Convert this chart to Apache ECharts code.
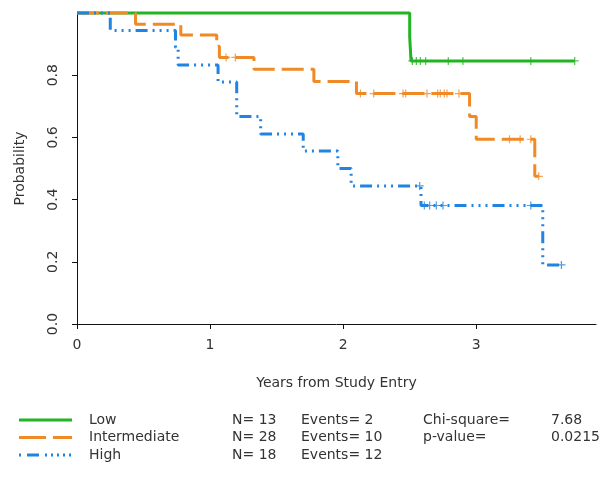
<!DOCTYPE html>
<html>
<head>
<meta charset="utf-8">
<title>Survival by risk group</title>
<script src="https://cdn.jsdelivr.net/npm/echarts@6/dist/echarts.min.js"></script>
<style>
  html, body { margin: 0; padding: 0; background: #fff; }
  #chart { width: 614px; height: 478px; }
</style>
</head>
<body>
<div id="chart"></div>
<script>
"use strict";

// groups
var groupNames = ['Low', 'Intermediate', 'High'];
var groupN = [13, 28, 18];
var groupEvents = [2, 10, 12];
var chiSquare = '7.68';
var pValue = '0.0215';

// step points (event times / survival after the event)
var lowTimes = [0, 2.50, 2.51];
var lowSurv = [1, 0.923, 0.846];
var lowCensor = [2.52, 2.55, 2.58, 2.62, 2.79, 2.90, 3.41, 3.74];

var midTimes = [0, 0.44, 0.78, 1.05, 1.07, 1.33, 1.78, 2.10, 2.95, 3.00, 3.44];
var midSurv = [1, 0.964, 0.929, 0.893, 0.857, 0.819, 0.780, 0.741, 0.667, 0.594, 0.475];
var midCensor = [1.12, 1.19, 2.13, 2.23, 2.45, 2.47, 2.63, 2.71, 2.73, 2.76, 2.78, 2.87, 3.25, 3.33, 3.41, 3.47];

var highTimes = [0, 0.25, 0.74, 0.76, 1.06, 1.20, 1.38, 1.70, 1.96, 2.06, 2.585, 3.50];
var highSurv = [1, 0.944, 0.889, 0.833, 0.778, 0.667, 0.611, 0.556, 0.500, 0.444, 0.381, 0.190];
var highCensor = [2.575, 2.61, 2.65, 2.70, 2.75, 3.41, 3.64];

// axis ticks
var xTicks = [0, 1, 2, 3];
var yTicks = [0, 0.2, 0.4, 0.6, 0.8];

var colors = ['#22b422', '#f08a26', '#2184e0'];
var dashes = ['solid', [22, 7], [12, 5, 2, 5, 2, 5, 2, 5]];
var legendDashes = ['solid', [27, 7], [2, 6, 12, 6, 2, 4, 2, 4, 2, 4, 2, 4]];
var txtColor = '#333';
var fontFam = '"DejaVu Sans", sans-serif';
var fs = 14;

function stepData(times, surv, censor) {
  var d = times.map(function(t, i) { return [t, surv[i]]; });
  var last = censor[censor.length - 1];
  if (last > times[times.length - 1]) d.push([last, surv[surv.length - 1]]);
  return d;
}
function censorData(times, surv, censor) {
  return censor.map(function(c) {
    var s = surv[0];
    for (var i = 0; i < times.length; i++) { if (times[i] <= c) s = surv[i]; }
    return [c, s];
  });
}

var groups = [
  [lowTimes, lowSurv, lowCensor],
  [midTimes, midSurv, midCensor],
  [highTimes, highSurv, highCensor]
];

var series = [];
groups.forEach(function(g, i) {
  series.push({
    name: groupNames[i],
    type: 'line',
    step: 'end',
    clip: false,
    symbol: 'none',
    data: stepData(g[0], g[1], g[2]),
    lineStyle: { color: colors[i], width: 3, type: dashes[i] },
    z: 2 + i
  });
  series.push({
    name: groupNames[i] + ' censored',
    type: 'scatter',
    clip: false,
    symbol: 'path://M0,4 L8,4 M4,0 L4,8',
    symbolSize: 8,
    data: censorData(g[0], g[1], g[2]),
    itemStyle: { color: 'none', borderColor: colors[i], borderWidth: 1.2 },
    z: 5 + i
  });
});

// legend / stats block under the chart
var graphics = [];
var rowY = [422, 439.5, 457];
function txt(x, y, s) {
  return { type: 'text', left: x, top: y - 9,
    style: { text: s, font: fs + 'px ' + fontFam, fill: txtColor } };
}
groupNames.forEach(function(name, i) {
  graphics.push({
    type: 'line',
    shape: { x1: 19, y1: rowY[i] - 2, x2: 72, y2: rowY[i] - 2 },
    style: { stroke: colors[i], lineWidth: 3, lineDash: legendDashes[i] === 'solid' ? null : legendDashes[i] }
  });
  graphics.push(txt(89, rowY[i], name));
  graphics.push(txt(232, rowY[i], 'N= ' + groupN[i]));
  graphics.push(txt(301, rowY[i], 'Events= ' + groupEvents[i]));
});
graphics.push(txt(423, rowY[0], 'Chi-square='));
graphics.push(txt(551, rowY[0], chiSquare));
graphics.push(txt(423, rowY[1], 'p-value='));
graphics.push(txt(551, rowY[1], pValue));

var chart = echarts.init(document.getElementById('chart'), null, { renderer: 'canvas' });
var option = {
  animation: false,
  backgroundColor: '#fff',
  textStyle: { fontFamily: fontFam },
  grid: { left: 77, right: 18, top: 13, bottom: 154, containLabel: false },
  xAxis: {
    type: 'value',
    min: 0,
    max: 3.9,
    interval: 1,
    name: 'Years from Study Entry',
    nameLocation: 'middle',
    nameGap: 52,
    nameTextStyle: { color: txtColor, fontSize: fs, fontFamily: fontFam },
    axisLine: { show: true, onZero: false, lineStyle: { color: '#111', width: 1 } },
    axisTick: { show: true, length: 5, customValues: xTicks, lineStyle: { color: '#111' } },
    axisLabel: { customValues: xTicks, color: txtColor, fontSize: fs, margin: 14, fontFamily: fontFam },
    splitLine: { show: false }
  },
  yAxis: {
    type: 'value',
    min: 0,
    max: 1,
    interval: 0.2,
    name: 'Probability',
    nameLocation: 'middle',
    nameGap: 50,
    nameTextStyle: { color: txtColor, fontSize: fs, fontFamily: fontFam },
    axisLine: { show: true, lineStyle: { color: '#111', width: 1 } },
    axisTick: { show: true, length: 5, customValues: yTicks, lineStyle: { color: '#111' } },
    axisLabel: {
      customValues: yTicks, rotate: 90, color: txtColor, fontSize: fs, margin: 17, fontFamily: fontFam,
      formatter: function(v) { return v.toFixed(1); }
    },
    splitLine: { show: false }
  },
  series: series,
  graphic: graphics
};
chart.setOption(option);
</script>
</body>
</html>
